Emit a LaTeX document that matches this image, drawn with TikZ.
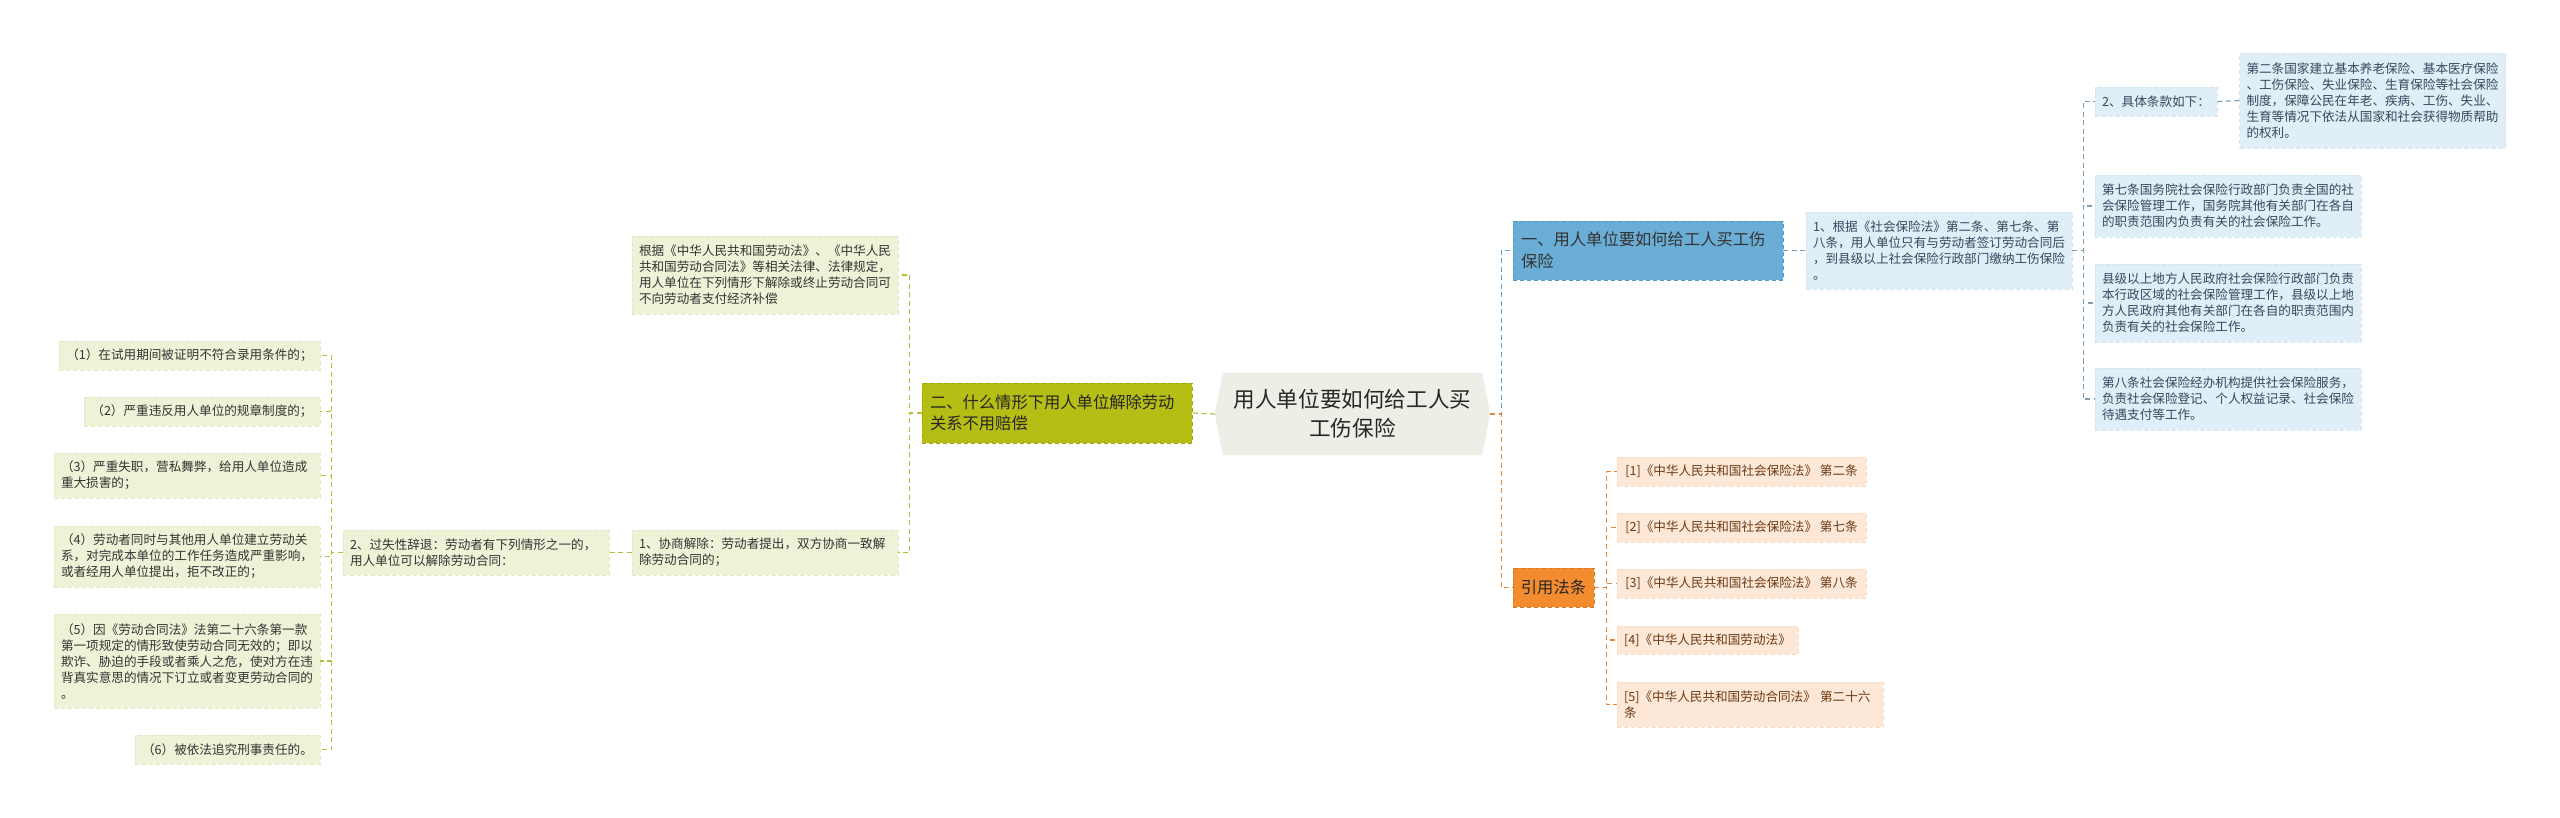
\documentclass[tikz,border=0pt]{standalone}
\usepackage{fontspec}
\setmainfont{Noto Sans CJK SC}
\usetikzlibrary{backgrounds}
\definecolor{olfill}{HTML}{F0F2D7}
\definecolor{olborder}{HTML}{E4E7C2}
\definecolor{olline}{HTML}{B2BF35}
\definecolor{brfill}{HTML}{B5BE15}
\definecolor{brborder}{HTML}{9CA711}
\definecolor{rootfill}{HTML}{EEEEE7}
\definecolor{bluefill}{HTML}{6AADD5}
\definecolor{blueborder}{HTML}{5298C5}
\definecolor{bleaffill}{HTML}{DFEEF7}
\definecolor{bleafborder}{HTML}{CFE3F0}
\definecolor{bleaftext}{HTML}{34495E}
\definecolor{blueline}{HTML}{5BA3D6}
\definecolor{bleafline}{HTML}{7C9DB4}
\definecolor{orfill}{HTML}{F28C2F}
\definecolor{orborder}{HTML}{DC781E}
\definecolor{oleaffill}{HTML}{FDE7D6}
\definecolor{oleafborder}{HTML}{F8DBC5}
\definecolor{oleaftext}{HTML}{6A3B14}
\definecolor{orline}{HTML}{E38A3E}
\begin{document}
\begin{tikzpicture}[x=1pt,y=-1pt,
  small/.style={font=\fontsize{12.6}{16}\selectfont},
  mid/.style={font=\fontsize{16.3}{21.5}\selectfont},
  bx/.style={inner xsep=7pt, inner ysep=0pt, line width=0.7pt, dash pattern=on 4pt off 3pt},
  oleaf/.style={bx, small, fill=olfill, draw=olborder, text=black!80},
  bleaf/.style={bx, small, fill=bleaffill, draw=bleafborder, text=bleaftext},
  rleaf/.style={bx, small, fill=oleaffill, draw=oleafborder, text=oleaftext},
  ml/.style={align=left, text width=252pt, minimum height=#1},
  branch/.style={bx, mid, inner xsep=8pt},
  conn/.style={line width=1.2pt, dash pattern=on 5pt off 3.5pt},
]
\useasboundingbox (0,0) rectangle (2560,818);

% root
\node[font=\fontsize{21.6}{29}\selectfont, text=black!85, align=center, minimum width=275pt, minimum height=82pt, inner sep=0pt] (root) at (1352.5,414) {用人单位要如何给工人买\\工伤保险};

% left branch
\node[branch, fill=brfill, draw=brborder, text=black!85, align=left, text width=254pt, minimum height=60pt] (b2) at (1057,413) {二、什么情形下用人单位解除劳动\\关系不用赔偿};
\node[oleaf, ml=78pt] (gj) at (765,275) {根据《中华人民共和国劳动法》、《中华人民\\共和国劳动合同法》等相关法律、法律规定，\\用人单位在下列情形下解除或终止劳动合同可\\不向劳动者支付经济补偿};
\node[oleaf, ml=45pt] (xs) at (765,552.5) {1、协商解除：劳动者提出，双方协商一致解\\除劳动合同的；};
\node[oleaf, ml=45pt] (gs) at (476,552.5) {2、过失性辞退：劳动者有下列情形之一的，\\用人单位可以解除劳动合同：};
\node[oleaf, minimum width=261pt, minimum height=29pt] (l1) at (189.5,355.5) {（1）在试用期间被证明不符合录用条件的；};
\node[oleaf, minimum width=236pt, minimum height=29pt] (l2) at (202,411.5) {（2）严重违反用人单位的规章制度的；};
\node[oleaf, ml=45pt] (l3) at (187,475.5) {（3）严重失职，营私舞弊，给用人单位造成\\重大损害的；};
\node[oleaf, ml=61pt] (l4) at (187,556.5) {（4）劳动者同时与其他用人单位建立劳动关\\系，对完成本单位的工作任务造成严重影响，\\或者经用人单位提出，拒不改正的；};
\node[oleaf, ml=94pt] (l5) at (187,661) {（5）因《劳动合同法》法第二十六条第一款\\第一项规定的情形致使劳动合同无效的；即以\\欺诈、胁迫的手段或者乘人之危，使对方在违\\背真实意思的情况下订立或者变更劳动合同的\\。};
\node[oleaf, minimum width=185pt, minimum height=29pt] (l6) at (227.5,749.5) {（6）被依法追究刑事责任的。};

% right upper branch
\node[branch, fill=bluefill, draw=blueborder, text=black!80, align=left, text width=254pt, minimum height=59pt] (b1) at (1648,250.5) {一、用人单位要如何给工人买工伤\\保险};
\node[bleaf, ml=77pt] (gj1) at (1939,250.5) {1、根据《社会保险法》第二条、第七条、第\\八条，用人单位只有与劳动者签订劳动合同后\\，到县级以上社会保险行政部门缴纳工伤保险\\。};
\node[bleaf, minimum width=122pt, minimum height=29pt] (jt) at (2156,101.5) {2、具体条款如下：};
\node[bleaf, ml=95pt] (d2) at (2372.5,100.5) {第二条国家建立基本养老保险、基本医疗保险\\、工伤保险、失业保险、生育保险等社会保险\\制度，保障公民在年老、疾病、工伤、失业、\\生育等情况下依法从国家和社会获得物质帮助\\的权利。};
\node[bleaf, ml=62pt] (d7) at (2228,206) {第七条国务院社会保险行政部门负责全国的社\\会保险管理工作，国务院其他有关部门在各自\\的职责范围内负责有关的社会保险工作。};
\node[bleaf, ml=78pt] (xj) at (2228,303) {县级以上地方人民政府社会保险行政部门负责\\本行政区域的社会保险管理工作，县级以上地\\方人民政府其他有关部门在各自的职责范围内\\负责有关的社会保险工作。};
\node[bleaf, ml=62pt] (d8) at (2228,399) {第八条社会保险经办机构提供社会保险服务，\\负责社会保险登记、个人权益记录、社会保险\\待遇支付等工作。};

% references branch
\node[branch, fill=orfill, draw=orborder, text=black!85, minimum width=81pt, minimum height=39pt, inner xsep=4pt] (ref) at (1553.5,587.5) {引用法条};
\node[rleaf, minimum width=249pt, minimum height=29pt] (r1) at (1741.5,471.5) {[1]《中华人民共和国社会保险法》 第二条};
\node[rleaf, minimum width=249pt, minimum height=29pt] (r2) at (1741.5,527.5) {[2]《中华人民共和国社会保险法》 第七条};
\node[rleaf, minimum width=249pt, minimum height=29pt] (r3) at (1741.5,583.5) {[3]《中华人民共和国社会保险法》 第八条};
\node[rleaf, minimum width=181pt, minimum height=28pt] (r4) at (1707.5,640) {[4]《中华人民共和国劳动法》};
\node[rleaf, ml=45pt] (r5) at (1750,704.5) {[5]《中华人民共和国劳动合同法》 第二十六\\条};

\begin{scope}[on background layer]
  \fill[white] (0,0) rectangle (2560,818);
  \fill[rootfill] ([xshift=8pt]root.north west) -- ([xshift=-8pt]root.north east) -- (root.east)
     -- ([xshift=-8pt]root.south east) -- ([xshift=8pt]root.south west) -- (root.west) -- cycle;
\end{scope}

% connectors
\draw[conn, olline] (root.west) -- (b2.east);
\foreach \c in {gj,xs} \draw[conn, olline] (b2.west) -- ++(-12,0) |- (\c.east);
\draw[conn, olline] (xs.west) -- (gs.east);
\foreach \c in {l1,l2,l3,l4,l5,l6} \draw[conn, olline] (gs.west) -- ++(-11,0) |- (\c.east);

\draw[conn, blueline] (root.east) -- ++(11,0) |- (b1.west);
\draw[conn, orline] (root.east) -- ++(11,0) |- (ref.west);
\draw[conn, bleafline] (b1.east) -- (gj1.west);
\foreach \c in {jt,d7,xj,d8} \draw[conn, bleafline] (gj1.east) -- ++(11,0) |- (\c.west);
\draw[conn, bleafline] (jt.east) -- (d2.west);
\foreach \c in {r1,r2,r3,r4,r5} \draw[conn, orline] (ref.east) -- ++(12,0) |- (\c.west);
\end{tikzpicture}
\end{document}
